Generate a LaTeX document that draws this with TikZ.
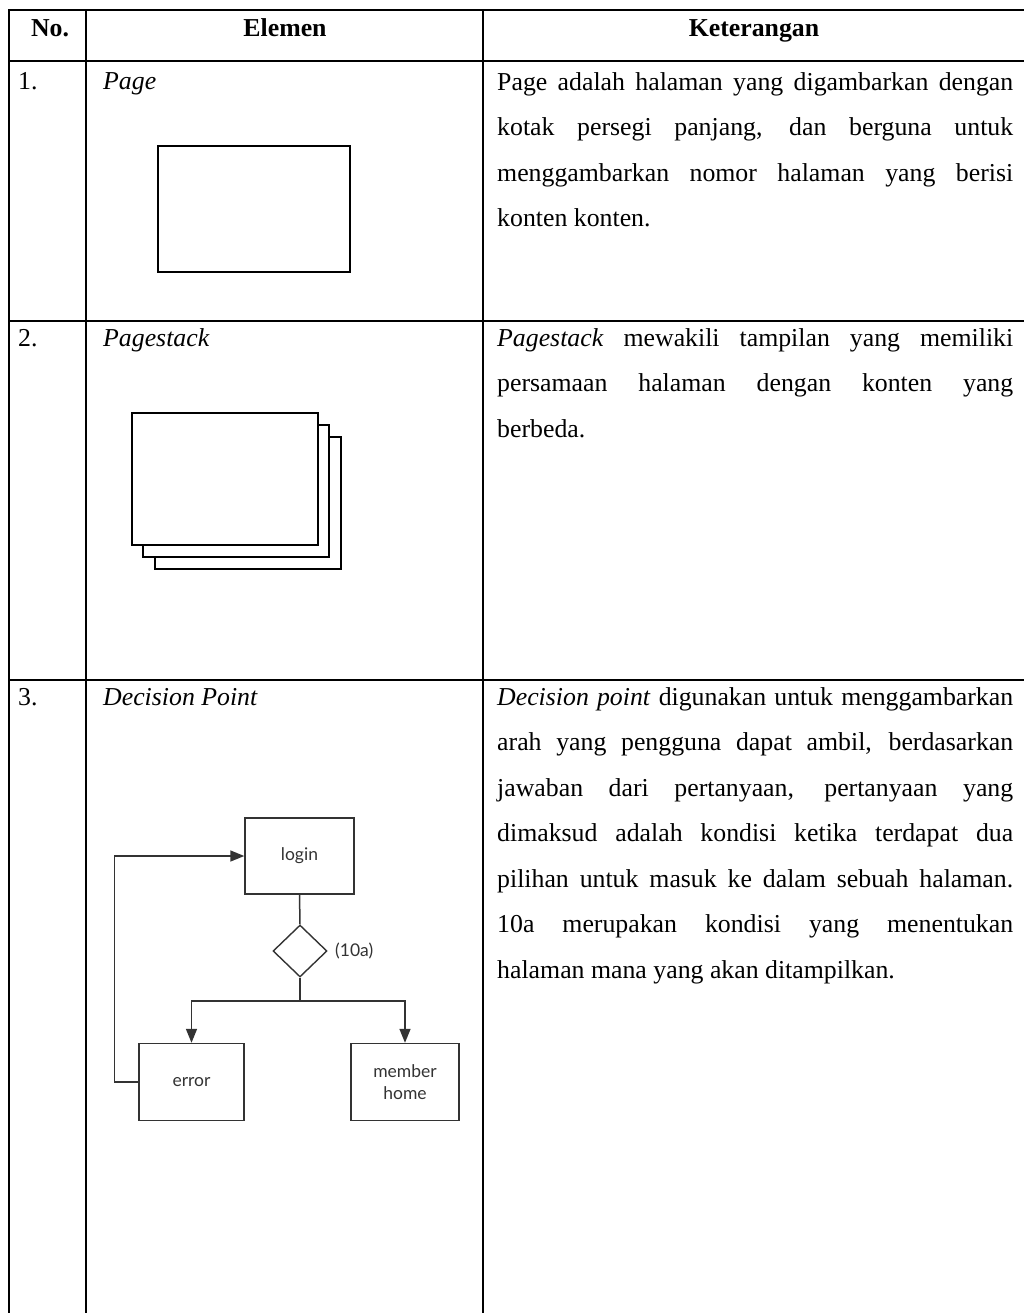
\documentclass[tikz,border=0pt]{standalone}
\usepackage{fontspec}
\setmainfont{Liberation Serif}
\newfontfamily\diafont{Lato}
\usetikzlibrary{arrows.meta,shapes.geometric}
\definecolor{dgray}{HTML}{333333}
\newcommand{\parasetup}{\tolerance=9999\relax\hyphenpenalty=10000\relax}
\tikzset{
  tbl/.style={line width=1.8pt, black, line cap=rect},
  txt/.style={inner sep=0pt, anchor=base west, font=\fontsize{25.8}{45.5}\selectfont},
  hdr/.style={inner sep=0pt, anchor=base, font=\fontsize{25.8}{45.5}\selectfont\bfseries},
  para/.style={inner sep=0pt, anchor=north west, text width=516pt, align=justify,
    font=\fontsize{25.8}{45.5}\selectfont\parasetup},
  pagebox/.style={draw=black, fill=white, line width=2.2pt, inner sep=0pt},
  dbox/.style={draw=dgray, line width=1.4pt, inner sep=0pt, align=center, text=dgray,
    font=\diafont\fontsize{17.5}{22}\selectfont},
  dline/.style={draw=dgray, line width=1.5pt},
  arr/.style={dline, -{Triangle[length=14pt,width=11pt]}}
}
\begin{document}
\begin{tikzpicture}[x=1pt,y=-1pt]
\useasboundingbox (0,0) rectangle (1024,1313);
\fill[white] (0,0) rectangle (1024,1313);
% table grid
\draw[tbl] (9,10) -- (1030,10);
\draw[tbl] (9,61) -- (1030,61);
\draw[tbl] (9,321) -- (1030,321);
\draw[tbl] (9,680) -- (1030,680);
\draw[tbl] (9,10) -- (9,1320);
\draw[tbl] (86,10) -- (86,1320);
\draw[tbl] (483,10) -- (483,1320);
% header
\node[hdr] (hno) at (50,37) {No.};
\node[hdr] (hel) at (285,37) {Elemen};
\node[hdr] (hket) at (754,37) {Keterangan};
% row 1
\node[txt] (n1) at (18,90) {1.};
\node[txt] (e1) at (103,90) {\textit{Page}};
\node[para] (d1) at (497,58.15) {\strut Page adalah halaman yang digambarkan dengan\linebreak kotak persegi panjang, dan berguna untuk\linebreak menggambarkan nomor halaman yang berisi\linebreak konten konten.};
\node[pagebox, minimum width=192pt, minimum height=126pt] (page) at (254,209) {};
% row 2
\node[txt] (n2) at (18,346) {2.};
\node[txt] (e2) at (103,346) {\textit{Pagestack}};
\node[para] (d2) at (497,314.15) {\strut\textit{Pagestack} mewakili tampilan yang memiliki\linebreak persamaan halaman dengan konten yang\linebreak berbeda.};
\node[pagebox, minimum width=186pt, minimum height=132pt] (stack3) at (248,503) {};
\node[pagebox, minimum width=186pt, minimum height=132pt] (stack2) at (236,491) {};
\node[pagebox, minimum width=186pt, minimum height=132pt] (stack1) at (225,479) {};
% row 3
\node[txt] (n3) at (18,705) {3.};
\node[txt] (e3) at (103,705) {\textit{Decision Point}};
\node[para] (d3) at (497,673.15) {\strut\textit{Decision point} digunakan untuk menggambarkan\linebreak arah yang pengguna dapat ambil, berdasarkan\linebreak jawaban dari pertanyaan, pertanyaan yang\linebreak dimaksud adalah kondisi ketika terdapat dua\linebreak pilihan untuk masuk ke dalam sebuah halaman.\linebreak 10a merupakan kondisi yang menentukan\linebreak halaman mana yang akan ditampilkan.};
% decision diagram
\node[dbox, minimum width=109pt, minimum height=76pt] (login) at (299.5,856) {login};
\node[draw=dgray, line width=1.4pt, diamond, inner sep=0pt, minimum width=54pt, minimum height=52pt] (dec) at (300,951) {};
\node[inner sep=0pt, anchor=west, text=dgray, font=\diafont\fontsize{17.5}{21}\selectfont] (lbl) at (335,951) {(10a)};
\node[dbox, minimum width=105pt, minimum height=77pt] (error) at (191.5,1082) {error};
\node[dbox, minimum width=108pt, minimum height=77pt] (member) at (405,1082) {member\\home};
\coordinate (split) at (300,1001);
\draw[dline] (login.south) -- (dec.north);
\draw[dline] (dec.south) -- (split);
\draw[arr] (split) -| (error.north);
\draw[arr] (split) -| (member.north);
\draw[arr] (error.west) -- ++(-24,0) |- (login.west);
\end{tikzpicture}
\end{document}
